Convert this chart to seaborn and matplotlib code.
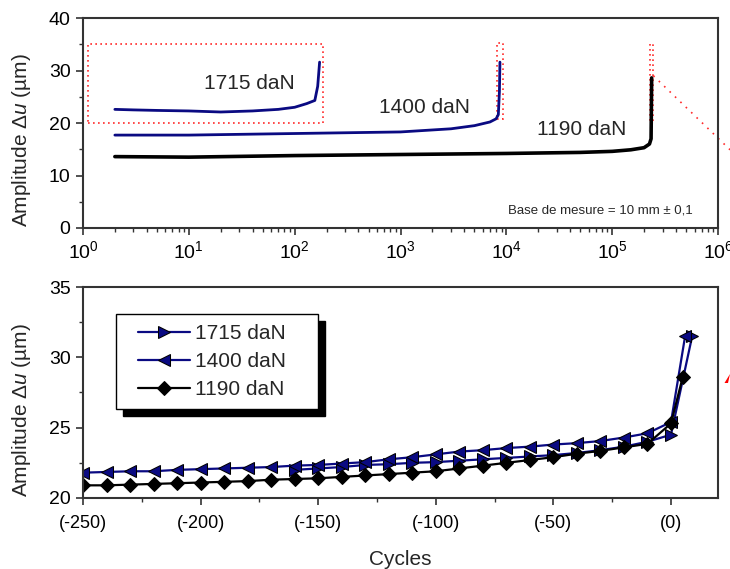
import pandas as pd
import matplotlib
matplotlib.use('Agg')
import matplotlib.pyplot as plt
from matplotlib.patches import Rectangle, Polygon
from matplotlib.lines import Line2D
from matplotlib.legend_handler import HandlerLine2D
from matplotlib.ticker import FuncFormatter, MultipleLocator, LogLocator, NullFormatter
import seaborn as sns

# --- top panel : amplitude vs cycles (log scale)
top_cyc_1715 = [2, 3, 5, 10, 20, 40, 70, 100, 130, 155, 165, 172]
top_amp_1715 = [22.6, 22.5, 22.4, 22.3, 22.1, 22.3, 22.6, 23.0, 23.7, 24.3, 27.0, 31.6]
top_cyc_1400 = [2, 10, 100, 1000, 3000, 5000, 7000, 8000, 8400, 8600, 8700]
top_amp_1400 = [17.7, 17.7, 18.0, 18.3, 18.9, 19.5, 20.2, 20.8, 21.6, 26.0, 31.6]
top_cyc_1190 = [2, 10, 100, 1000, 10000, 50000, 100000, 150000, 200000, 225000, 233000, 236000]
top_amp_1190 = [13.6, 13.5, 13.8, 14.0, 14.2, 14.4, 14.6, 14.9, 15.3, 16.0, 17.0, 28.6]

# --- bottom panel : cycles counted from rupture
bot_cyc_1715 = [-160, -150, -140, -130, -120, -110, -100, -90, -80, -70, -60, -50, -40, -30, -20, -10, 0, 9]
bot_amp_1715 = [22.0, 22.1, 22.2, 22.35, 22.4, 22.5, 22.55, 22.65, 22.75, 22.85, 22.95, 23.05, 23.2, 23.4,
                23.65, 24.0, 24.5, 31.5]
bot_cyc_1400 = [-250, -240, -230, -220, -210, -200, -190, -180, -170, -160, -150, -140, -130, -120, -110,
                -100, -90, -80, -70, -60, -50, -40, -30, -20, -10, 0, 6]
bot_amp_1400 = [21.8, 21.85, 21.9, 21.9, 22.0, 22.05, 22.1, 22.15, 22.2, 22.3, 22.35, 22.45, 22.55, 22.75,
                22.9, 23.1, 23.3, 23.4, 23.55, 23.65, 23.8, 23.9, 24.05, 24.3, 24.6, 25.4, 31.5]
bot_cyc_1190 = [-250, -240, -230, -220, -210, -200, -190, -180, -170, -160, -150, -140, -130, -120, -110,
                -100, -90, -80, -70, -60, -50, -40, -30, -20, -10, 0, 5]
bot_amp_1190 = [20.9, 20.9, 20.95, 21.0, 21.05, 21.1, 21.15, 21.2, 21.3, 21.35, 21.4, 21.5, 21.6, 21.7,
                21.8, 21.9, 22.1, 22.3, 22.5, 22.7, 22.9, 23.15, 23.35, 23.6, 23.85, 25.3, 28.6]

labels = ['1715 daN', '1400 daN', '1190 daN']

# zoom boxes drawn in red on the top panel (x0, x1, y0, y1)
zoom_boxes = [(1.12, 186, 20.0, 35.0), (8100, 9200, 20.7, 35.3), (230000, 245000, 20.0, 35.0)]

sns.set_style("ticks")
plt.rcParams['font.family'] = ['Liberation Sans', 'DejaVu Sans']
plt.rcParams['mathtext.fontset'] = 'custom'
plt.rcParams['mathtext.rm'] = 'Liberation Sans'
plt.rcParams['mathtext.it'] = 'Liberation Sans:italic'

navy = '#0a0a82'
edge = '#333333'
ylab = r'Amplitude $\Delta\mathit{u}$ (µm)'

fig = plt.figure(figsize=(7.3, 5.69), dpi=100)
ax1 = fig.add_axes([0.1137, 0.5993, 0.8699, 0.3690])
ax2 = fig.add_axes([0.1137, 0.1248, 0.8699, 0.3708])

# top panel
sns.lineplot(x=top_cyc_1715, y=top_amp_1715, ax=ax1, color=navy, lw=2, sort=False, estimator=None)
sns.lineplot(x=top_cyc_1400, y=top_amp_1400, ax=ax1, color=navy, lw=2, sort=False, estimator=None)
sns.lineplot(x=top_cyc_1190, y=top_amp_1190, ax=ax1, color='black', lw=2.6, sort=False, estimator=None)
ax1.set_xscale('log')
ax1.set_xlim(1, 1e6)
ax1.set_ylim(0, 40)
ax1.xaxis.set_major_locator(LogLocator(base=10, numticks=10))
ax1.xaxis.set_minor_locator(LogLocator(base=10, subs=range(2, 10), numticks=20))
ax1.xaxis.set_minor_formatter(NullFormatter())
ax1.yaxis.set_major_locator(MultipleLocator(10))
ax1.yaxis.set_minor_locator(MultipleLocator(5))
ax1.set_xlabel('')
ax1.set_ylabel(ylab, fontsize=15)
ax1.yaxis.set_label_coords(-0.079, 0.419)

for x0, x1, y0, y1 in zoom_boxes:
    ax1.add_patch(Rectangle((x0, y0), x1 - x0, y1 - y0, fill=False, ec='#ff2a2a',
                            ls=(0, (1, 2)), lw=1.2, zorder=1))
ax1.plot([245000, 1.3e6], [29.0, 14.9], color='#ff2a2a', ls=(0, (1, 3.5)), lw=1.2, clip_on=False)

ax1.text(37, 27.6, '1715 daN', fontsize=15, ha='center', va='center')
ax1.text(1700, 23.0, '1400 daN', fontsize=15, ha='center', va='center')
ax1.text(51000, 18.7, '1190 daN', fontsize=15, ha='center', va='center')
ax1.text(0.814, 0.081, 'Base de mesure = 10 mm ± 0,1', transform=ax1.transAxes,
         fontsize=9.5, ha='center', va='center')

# bottom panel
sns.lineplot(x=bot_cyc_1715, y=bot_amp_1715, ax=ax2, color=navy, lw=1.6, sort=False, estimator=None,
             marker='>', markersize=9, markerfacecolor=navy, markeredgecolor='black', label=labels[0])
sns.lineplot(x=bot_cyc_1400, y=bot_amp_1400, ax=ax2, color=navy, lw=1.6, sort=False, estimator=None,
             marker='<', markersize=9, markerfacecolor=navy, markeredgecolor='black', label=labels[1])
sns.lineplot(x=bot_cyc_1190, y=bot_amp_1190, ax=ax2, color='black', lw=1.6, sort=False, estimator=None,
             marker='D', markersize=7, markerfacecolor='black', markeredgecolor='black', label=labels[2])
ax2.set_xlim(-250, 20)
ax2.set_ylim(20, 35)
ax2.xaxis.set_major_locator(MultipleLocator(50))
ax2.xaxis.set_minor_locator(MultipleLocator(25))
ax2.yaxis.set_major_locator(MultipleLocator(5))
ax2.yaxis.set_minor_locator(MultipleLocator(2.5))
ax2.xaxis.set_major_formatter(FuncFormatter(lambda v, p: f'({int(round(v))})'))
ax2.set_xlabel('Cycles', fontsize=15)
ax2.xaxis.set_label_coords(0.5, -0.245)
ax2.set_ylabel(ylab, fontsize=15)
ax2.yaxis.set_label_coords(-0.079, 0.417)

leg = ax2.legend(loc='upper left', bbox_to_anchor=(0.052, 0.436, 0.318, 0.436), mode='expand',
                 borderaxespad=0, fontsize=15,
                 frameon=True, fancybox=False, edgecolor='black', framealpha=1,
                 handlelength=3.1, handletextpad=0.2, labelspacing=0.44, borderpad=0.47,
                 handler_map={Line2D: HandlerLine2D(xpad=0.6)},
                 shadow={'ox': 5, 'oy': -5, 'color': 'black', 'alpha': 1})
leg.get_frame().set_linewidth(1.0)

for ax in (ax1, ax2):
    for sp in ax.spines.values():
        sp.set_color(edge)
        sp.set_linewidth(1.5)
    ax.tick_params(which='major', direction='out', length=5, width=1.2, colors=edge,
                   labelcolor='black', labelsize=14, pad=4)
    ax.tick_params(which='minor', direction='out', length=3, width=1.0, colors=edge)
    ax.grid(False)
ax2.tick_params(axis='x', which='major', pad=7, labelsize=13)

# small red arrow head at the right edge of the lower panel (end of the zoom connector)
W, H = 730, 569
arrow_px = [(724.5, 383), (730, 374), (728, 383)]
fig.add_artist(Polygon([(px / W, 1 - py / H) for px, py in arrow_px], closed=True,
                       transform=fig.transFigure, color='red', lw=0))

fig.savefig('out.png', dpi=100)
